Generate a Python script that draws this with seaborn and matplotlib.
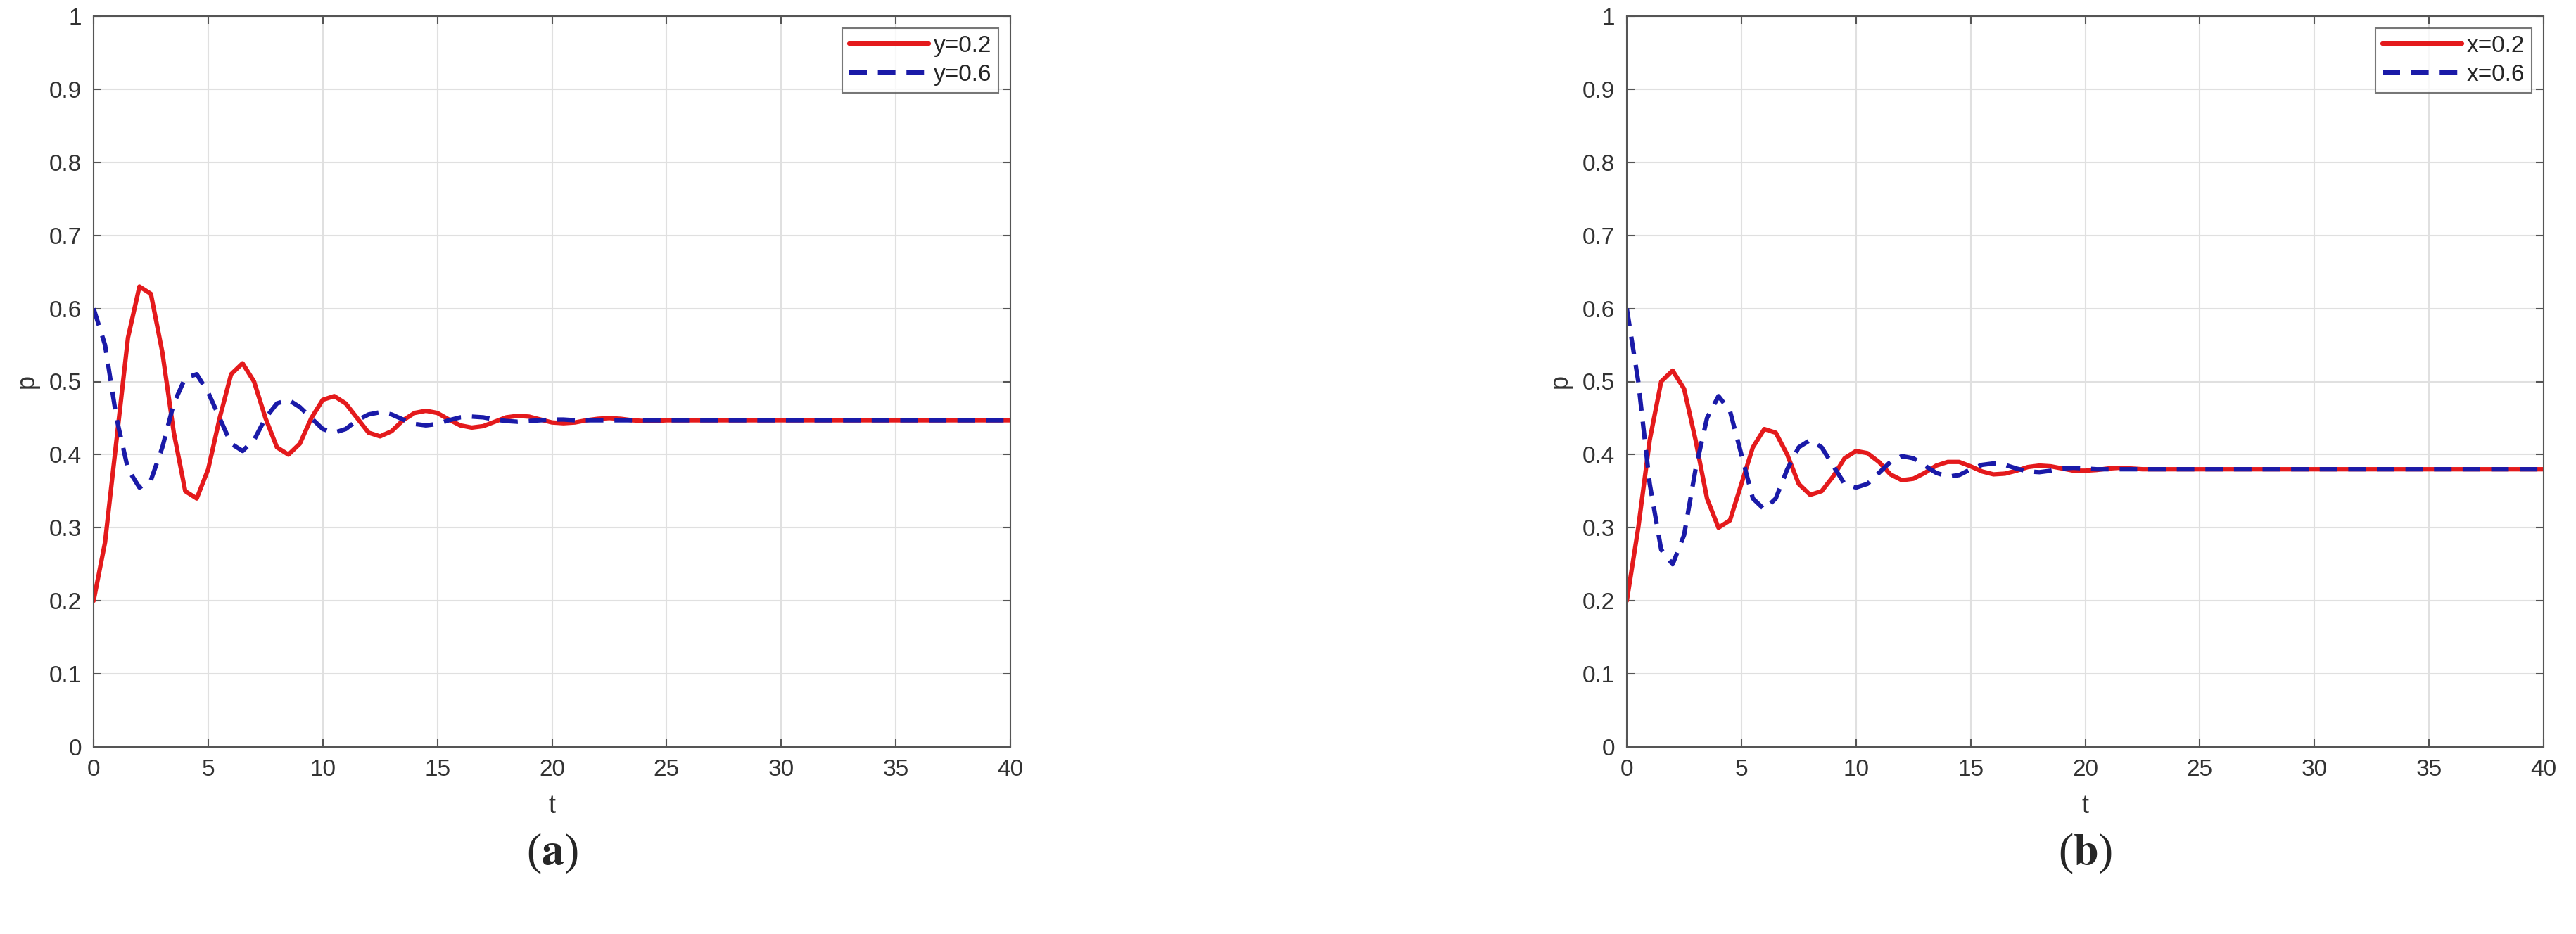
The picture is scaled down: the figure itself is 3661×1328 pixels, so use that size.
import matplotlib
matplotlib.use("Agg")
import matplotlib.pyplot as plt
import seaborn as sns
import pandas as pd
import numpy as np

t_head = [i * 0.5 for i in range(51)]
t_tail = list(range(26, 41))
t = t_head + t_tail

a_red = [0.20, 0.28, 0.42, 0.56, 0.63, 0.62, 0.54, 0.43, 0.35, 0.34, 0.38, 0.45, 0.51, 0.525, 0.50, 0.45,
         0.41, 0.40, 0.415, 0.45, 0.475, 0.48, 0.47, 0.45, 0.43, 0.425, 0.432, 0.447, 0.457, 0.46, 0.457,
         0.448, 0.44, 0.437, 0.439, 0.445, 0.451, 0.453, 0.452, 0.448, 0.444, 0.443, 0.444, 0.447, 0.449,
         0.450, 0.449, 0.447, 0.446, 0.446, 0.447] + [0.447] * 15
a_blue = [0.60, 0.55, 0.45, 0.38, 0.355, 0.365, 0.41, 0.47, 0.505, 0.51, 0.485, 0.45, 0.415, 0.405, 0.42,
          0.45, 0.47, 0.475, 0.465, 0.45, 0.435, 0.43, 0.435, 0.447, 0.455, 0.458, 0.455, 0.448, 0.442,
          0.44, 0.442, 0.447, 0.451, 0.452, 0.451, 0.448, 0.446, 0.445, 0.446, 0.447, 0.448, 0.448, 0.447,
          0.447, 0.447, 0.447, 0.447, 0.447, 0.447, 0.447, 0.447] + [0.447] * 15
b_red = [0.20, 0.30, 0.42, 0.50, 0.515, 0.49, 0.42, 0.34, 0.30, 0.31, 0.36, 0.41, 0.435, 0.43, 0.40, 0.36,
         0.345, 0.35, 0.37, 0.395, 0.405, 0.402, 0.39, 0.373, 0.365, 0.367, 0.375, 0.385, 0.39, 0.39, 0.384,
         0.377, 0.373, 0.374, 0.378, 0.383, 0.385, 0.384, 0.381, 0.378, 0.378, 0.379, 0.381, 0.382, 0.381,
         0.380, 0.380, 0.380, 0.380, 0.380, 0.380] + [0.380] * 15
b_blue = [0.60, 0.50, 0.36, 0.27, 0.25, 0.29, 0.38, 0.45, 0.48, 0.46, 0.40, 0.34, 0.325, 0.34, 0.38, 0.41,
          0.42, 0.41, 0.385, 0.36, 0.355, 0.36, 0.375, 0.39, 0.398, 0.395, 0.385, 0.375, 0.37, 0.372, 0.38,
          0.386, 0.388, 0.386, 0.381, 0.377, 0.376, 0.378, 0.381, 0.382, 0.381, 0.380, 0.380, 0.380, 0.380,
          0.380, 0.380, 0.380, 0.380, 0.380, 0.380] + [0.380] * 15

panels = [("a", "y", a_red, a_blue), ("b", "x", b_red, b_blue)]

sns.set_theme(style="white")
plt.rcParams['font.family'] = ['Liberation Sans', 'DejaVu Sans']
plt.rcParams['mathtext.fontset'] = 'stix'

fig = plt.figure(figsize=(36.61, 13.28), dpi=100)
lefts = [133 / 3661, 2312 / 3661]
w = 1303 / 3661
bottom = 1 - 1062 / 1328
h = (1062 - 23) / 1328

for (lab, var, red, blue), l in zip(panels, lefts):
    ax = fig.add_axes([l, bottom, w, h])
    df = pd.DataFrame({"t": t, "red": red, "blue": blue})
    sns.lineplot(data=df, x="t", y="red", ax=ax, color="#e41a1c", lw=4.5, label=f"{var}=0.2",
                 solid_joinstyle="round")
    sns.lineplot(data=df, x="t", y="blue", ax=ax, color="#1a1aa8", lw=4.5, ls=(0, (4, 2.5)),
                 label=f"{var}=0.6")
    ax.set_xlim(0, 40)
    ax.set_ylim(0, 1)
    ax.set_xticks(range(0, 41, 5))
    ax.set_yticks(np.round(np.arange(0, 1.01, 0.1), 1))
    ax.set_yticklabels(["0"] + [f"{v:.1f}" for v in np.arange(0.1, 0.95, 0.1)] + ["1"])
    ax.grid(True, color="#e0e0e0", lw=1.5)
    for s in ax.spines.values():
        s.set_color("#555555")
        s.set_linewidth(1.5)
    ax.tick_params(direction="in", length=8, width=1.5, colors="#555555", labelcolor="#333333",
                   labelsize=24, pad=12, top=True, right=True, bottom=True, left=True)
    ax.set_xlabel("t", fontsize=26, color="#333333", labelpad=14)
    ax.set_ylabel("p", fontsize=26, color="#333333", labelpad=10)
    leg = ax.legend(loc="upper right", fontsize=24, frameon=True, fancybox=False,
                    edgecolor="#555555", handlelength=3.4, borderpad=0.3, labelspacing=0.3,
                    handletextpad=0.2)
    leg.get_frame().set_linewidth(1.5)
    fig.text(l + w / 2, 1 - 1214 / 1328, r"($\mathbf{" + lab + r"}$)", ha="center", va="center",
             fontsize=46, family="Liberation Serif")

fig.savefig("out.png", dpi=100, facecolor="white")
